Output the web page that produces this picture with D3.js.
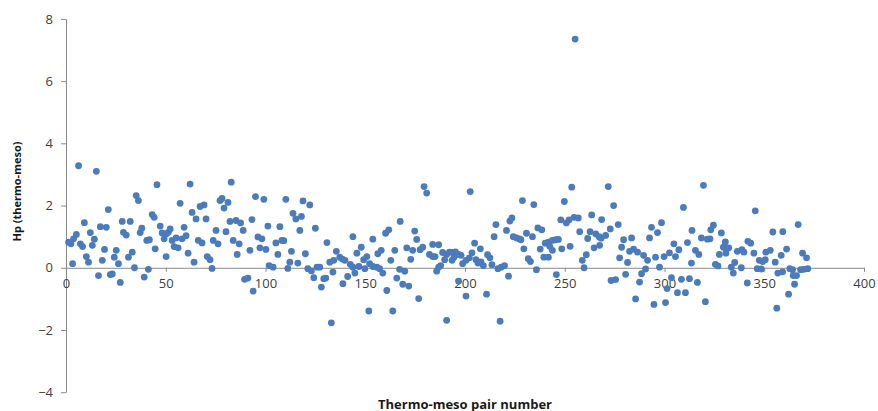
<!DOCTYPE html>
<html>
<head>
<meta charset="utf-8">
<script src="https://cdn.jsdelivr.net/npm/d3@7"></script>
<style>
  html, body { margin: 0; padding: 0; background: #fff; }
  svg { display: block; }
</style>
</head>
<body>
<svg id="chart" width="878" height="411"></svg>
<script>
// ---- Data ----
const pairNumber = [
  1.3,2.5,3.3,3.8,5.2,6.3,7.2,8.3,9.2,10.2,11.3,12.2,13.2,14.2,15.2,16.3,17.2,18.2,19.3,20.2,
  21.2,22.2,23.2,24.2,25.2,26.3,27.2,28.2,28.8,30.2,31.3,32.2,33.2,34.3,35.2,36.3,37.2,38,39.2,40.5,
  41.3,41.8,43.2,44.2,44.7,45.6,
  47.2,48.2,49.2,50.2,50.2,51.3,52.2,53.2,54.2,55.2,56.2,57.2,58.2,59.2,60.2,61.2,62.2,63.2,64.2,65.2,
  66.3,67.2,68.2,69.2,70.2,70.8,72.2,73.2,73.8,75.2,76.2,77.2,78.2,79.2,80.2,81.2,82.2,82.8,83.8,85.2,
  85.8,86.8,87.5,88.8,89.5,
  91.2,92.2,93.2,93.8,95,96.2,97.2,98.2,99.2,100.2,101.2,101.8,103.8,105.2,106.2,107.2,108.2,109.2,110.2,111.2,
  112.2,113,113.8,115.2,116.2,117.2,118,118.8,120,121.2,122.2,123,124.2,125,125.8,127.2,128,129.2,130.2,130.8,
  132.2,133,134.2,
  133.8,135.5,137.2,138.5,138.8,139.8,141.2,142.5,143.8,143.8,144.8,145.8,146.8,148,149.2,149.8,150.8,151.8,152.2,153.8,
  153.8,155.8,156.3,157.2,158,158.8,160.2,160.8,161.8,162.8,163.8,164.8,165.8,167.2,167.5,168.8,169.8,170.8,171.8,172.8,
  173.8,174.8,175.8,176.8,177.5,178.8,
  179.5,180.8,182.2,183.8,183.8,185,185.8,186.8,186.8,187.8,188.8,189.8,190.8,190.8,192.2,193.5,193.8,194.5,195.2,196.8,
  196.8,198,198.8,200.5,200.5,202.2,202.6,203.5,204.8,205.5,206.5,207.7,208,209.2,210.8,211.3,212.5,213.5,214.6,215.5,
  216.5,217.6,218.2,219.8,220.8,221.8,222.5,223.5,224.2,
  225.8,227.2,228,228.8,229.5,230.8,231.7,232.8,233.8,234.5,235.8,236.5,237.7,238.5,239.5,240.2,241.8,241.8,242.5,243.8,
  243.8,245.5,245.8,246.8,248,248.5,249.8,250.8,252.2,252.7,253.5,254.7,255.2,256.8,257.5,258.8,259.7,260.8,261.5,262.7,
  263.5,264.7,265.5,267.2,267.5,268.2,268.5,
  270.5,271.8,272.8,273.2,274.5,275.5,276.8,277.5,278.5,279.5,280.5,281.5,282.5,283.5,284.5,285.5,286.5,287.5,288.5,289.5,
  290.5,291.5,292.5,293.5,294.7,295.5,296.5,297.5,298.5,299.8,300.5,301.3,302.5,303.5,304.7,305.5,306.5,307.2,308.5,309.5,
  310.5,311.5,312.5,313.5,313.8,
  315.5,316.5,317.2,318.5,319.5,320.5,321.5,322.8,323.2,324.5,325.5,326.8,327.5,328.5,329.5,330.5,330.8,332.2,333.5,334.5,
  335.2,336.5,338.5,338.8,339.8,341.5,341.8,343.2,344.8,345.5,346.5,347.5,348.5,349.2,350.5,350.8,353,354.3,355.5,356.3,
  356.8,358.5,359.3,
  359.2,361.2,362.2,362.8,364.2,364.5,365.2,366.2,367,368.2,369.2,369.8,371.2,371.8
];
const hp = [
  0.82,0.77,0.13,0.93,1.07,3.28,0.77,0.68,1.45,0.36,0.18,1.13,0.72,0.92,3.10,-0.25,1.32,0.24,0.59,1.30,
  1.87,-0.22,-0.2,0.34,0.56,0.13,-0.47,1.49,1.14,1.05,0.34,1.49,0.5,0.0,2.32,2.16,1.13,1.27,-0.3,0.88,
  -0.05,0.9,1.71,1.62,0.61,2.67,
  1.34,1.12,0.93,1.09,0.36,1.14,1.25,0.88,0.68,0.96,0.64,2.07,0.93,1.30,1.03,0.47,2.69,1.78,0.18,1.57,
  0.88,1.97,0.8,2.02,1.57,0.36,0.26,-0.02,0.88,1.2,0.77,2.16,2.23,1.92,1.16,2.10,1.49,2.75,0.88,1.52,
  0.43,0.77,1.44,1.2,-0.37,
  -0.33,0.56,1.55,-0.75,2.29,0.99,0.64,0.93,2.2,0.59,1.34,0.07,0.02,0.8,0.43,1.32,0.88,0.87,2.2,-0.02,
  0.18,0.53,1.75,1.57,0.15,1.2,1.65,2.15,0.45,-0.03,2.02,-0.1,-0.32,1.27,0.02,0.02,-0.62,-0.35,-0.33,0.81,
  0.18,-1.77,0.24,
  -0.14,0.53,0.34,0.28,-0.51,0.24,-0.28,0.11,1.0,0.02,-0.17,0.47,0.04,0.66,0.26,-0.03,0.36,-1.39,0.13,0.92,
  0.04,0.02,0.45,-0.03,0.56,-0.17,1.11,-0.73,1.22,0.24,-1.39,0.56,-0.33,-0.05,1.49,-0.53,-0.11,0.64,-0.59,0.27,
  0.56,1.18,0.91,-0.99,0.58,0.66,
  2.61,2.4,0.43,0.75,0.36,0.36,-0.11,0.74,0.02,0.07,0.49,0.26,0.43,-1.69,0.5,0.24,0.49,0.34,0.51,0.43,
  -0.43,0.4,0.13,0.24,-0.91,0.32,2.45,0.48,0.79,0.26,0.15,0.61,0.19,0.07,-0.85,0.42,0.32,0.1,1.0,1.39,
  -0.03,-1.72,0.02,0.07,1.2,-0.27,1.5,1.6,1.0,
  0.96,0.93,0.9,2.16,0.61,1.11,0.29,0.2,1.0,2.03,-0.06,1.28,0.6,1.22,0.34,0.79,0.82,0.34,0.69,0.88,
  0.56,0.9,-0.22,0.91,1.54,0.61,2.13,1.44,1.54,0.69,2.59,1.62,7.35,1.6,1.16,0.24,0.0,0.42,0.94,1.16,
  1.7,0.64,1.09,1.0,0.72,0.95,1.55,
  1.04,2.61,1.25,-0.41,2.0,-0.38,1.39,0.32,0.66,0.9,-0.21,0.17,0.53,0.96,0.6,-1.0,0.5,-0.46,-0.19,0.4,
  -0.04,0.24,0.96,1.3,-1.18,0.34,1.13,0.02,1.45,0.36,-1.12,-0.67,0.48,-0.32,0.77,0.36,-0.8,0.58,-0.37,1.94,
  -0.8,0.81,-0.35,0.15,1.2,
  0.56,-0.47,0.43,0.96,2.65,-1.09,0.92,0.93,1.22,1.37,0.11,0.06,0.43,1.12,0.66,0.83,0.47,0.64,0.02,-0.17,
  0.17,0.53,0.0,0.58,0.5,-0.49,0.85,0.79,0.47,1.83,-0.03,0.24,-0.04,0.2,0.26,0.5,0.56,1.15,0.18,-1.3,
  -0.17,0.4,1.16,
  -0.13,0.6,-0.85,-0.03,-0.06,-0.25,-0.53,-0.25,1.39,-0.06,0.47,-0.05,0.32,-0.03
];
const xTicks = [0, 50, 100, 150, 200, 250, 300, 350, 400];
const yTicks = [-4, -2, 0, 2, 4, 6, 8];
const xTitle = "Thermo-meso pair number";
const yTitle = "Hp (thermo-meso)";

// ---- Drawing ----
const svg = d3.select("#chart");
const axisColor = "#898989";
const labelColor = "#404040";
const fontFam = "'Open Sans', 'DejaVu Sans', sans-serif";

const x = d3.scaleLinear().domain([0, 400]).range([66, 864]);
const y = d3.scaleLinear().domain([-4, 8]).range([392.2, 18.9]);

const data = pairNumber.map((p, i) => ({ p, v: hp[i] }));

// Y axis
const yAxis = svg.append("g")
  .attr("transform", `translate(${x(0)},0)`)
  .call(d3.axisLeft(y).tickValues(yTicks).tickSize(5).tickPadding(8).tickSizeOuter(0)
    .tickFormat(d3.format("d")));
yAxis.select(".domain").attr("stroke", axisColor);
yAxis.selectAll(".tick line").attr("stroke", axisColor);
yAxis.selectAll(".tick text").attr("fill", labelColor)
  .style("font-family", fontFam).style("font-size", "13px");

// X axis at y = 0
const xAxis = svg.append("g")
  .attr("transform", `translate(0,${y(0)})`)
  .call(d3.axisBottom(x).tickValues(xTicks).tickSize(4).tickPadding(7).tickSizeOuter(0)
    .tickFormat(d3.format("d")));
xAxis.select(".domain").attr("stroke", axisColor);
xAxis.selectAll(".tick line").attr("stroke", axisColor);
xAxis.selectAll(".tick text").attr("fill", labelColor)
  .style("font-family", fontFam).style("font-size", "13px");

// Points
svg.append("g").selectAll("circle")
  .data(data)
  .join("circle")
  .attr("cx", d => x(d.p))
  .attr("cy", d => y(d.v))
  .attr("r", 3.4)
  .attr("fill", "#4a7bbb");

// Axis titles
svg.append("text")
  .attr("x", (x(0) + x(400)) / 2)
  .attr("y", 408.5)
  .attr("text-anchor", "middle")
  .attr("fill", "#1a1a1a")
  .style("font-family", fontFam)
  .style("font-weight", "bold")
  .style("font-size", "13px")
  .text(xTitle);

svg.append("text")
  .attr("transform", "translate(21,191.5) rotate(-90)")
  .attr("text-anchor", "middle")
  .attr("fill", "#1a1a1a")
  .style("font-family", fontFam)
  .style("font-weight", "bold")
  .style("font-size", "11px")
  .text(yTitle);
</script>
</body>
</html>
